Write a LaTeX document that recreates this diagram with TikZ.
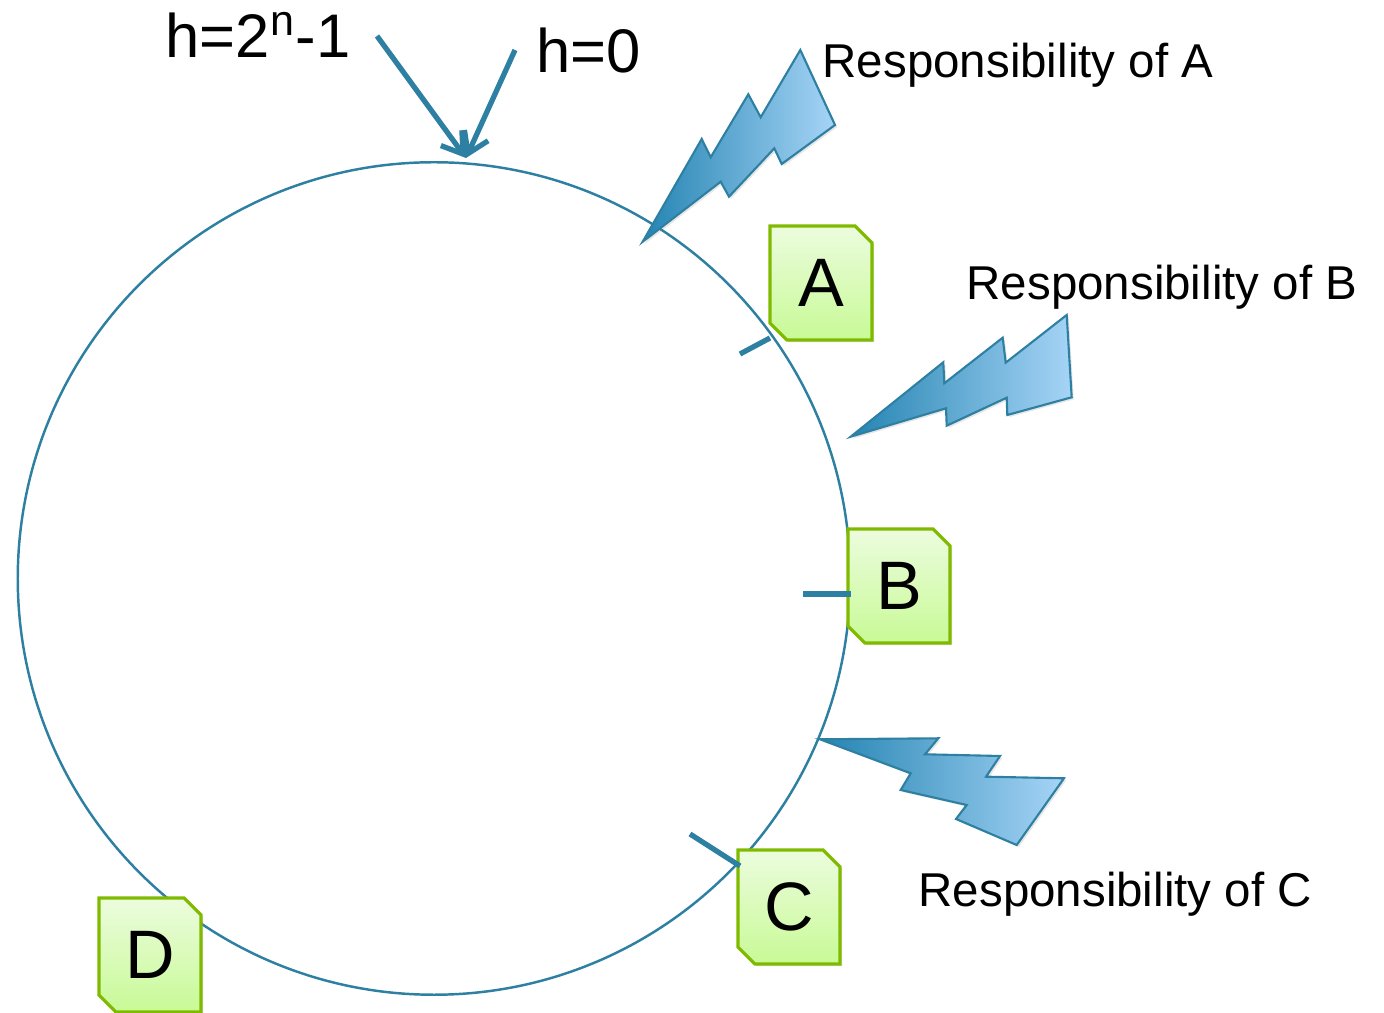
\documentclass[tikz,border=0pt]{standalone}
\usepackage{fontspec}
\setmainfont{Liberation Sans}
\usetikzlibrary{shapes.misc,shadows,arrows.meta}
\definecolor{ringblue}{RGB}{46,128,162}
\definecolor{boltdark}{RGB}{36,132,178}
\definecolor{boltlight}{RGB}{166,212,246}
\definecolor{boxline}{RGB}{128,186,0}
\definecolor{boxtop}{RGB}{236,252,222}
\definecolor{boxbottom}{RGB}{200,250,150}
\begin{document}
\begin{tikzpicture}[x=0.01cm,y=-0.01cm]
        \tikzstyle{server}=[chamfered rectangle,chamfered rectangle corners={north east,south west},
          chamfered rectangle xsep=0.085cm,chamfered rectangle ysep=0.085cm,inner sep=0pt,
          minimum width=1.02cm,minimum height=1.14cm,draw=boxline,line width=0.9pt,
          top color=boxtop,bottom color=boxbottom,
          drop shadow={opacity=0.25,shadow xshift=0.6pt,shadow yshift=-0.6pt},
          font=\fontsize{19.5}{22}\selectfont]
        \tikzstyle{resp}=[anchor=base west,inner sep=0pt,font=\fontsize{13.5}{16}\selectfont]
        \tikzstyle{hash}=[anchor=base west,inner sep=0pt,font=\fontsize{17.5}{20}\selectfont]
        \tikzstyle{pointer}=[draw,->,>={Straight Barb[length=2mm,width=2.6mm]},line width=1.5pt,ringblue]
        \tikzstyle{tick}=[draw,line width=1.5pt,ringblue]
        \tikzstyle{bolt}=[draw=ringblue,line width=0.6pt,left color=boltdark,right color=boltlight,
          drop shadow={opacity=0.2,shadow xshift=0.6pt,shadow yshift=-0.6pt}]
        \useasboundingbox (0,0) rectangle (1384,1013);
        % ring
        \node [circle,draw=ringblue,line width=0.7pt,minimum size=8.32cm,inner sep=0pt] (ring) at (434,578.5) {};
        % labels
        \node [hash] (hmax) at (165,58) {h=2\textsuperscript{n}-1};
        \node [hash] (hzero) at (536,73) {h=0};
        \coordinate (maxstart) at (377,36);
        \coordinate (zerostart) at (515,50);
        \coordinate (origin) at (466,158);
        \path[pointer] (maxstart) -- (origin);
        \path[pointer] (zerostart) -- (origin);
        % bolts
        \path[bolt] (642.7,241.7) -- (701.7,139) -- (710.7,157.3) -- (748.3,94.3) -- (760.7,117.3)
          -- (800.3,50) -- (835,125) -- (781.7,164) -- (774.3,148.3) -- (729,196.7) -- (720.7,181.7) -- cycle;
        \path[bolt] (850.7,436.7) -- (943.3,362.3) -- (944.3,383.3) -- (1002.7,337.7) -- (1005.7,362.7)
          -- (1066.7,315) -- (1071.7,397.3) -- (1007.3,415) -- (1006.7,397.7) -- (946.7,425.7) -- (946,408.3) -- cycle;
        \path[bolt] (820,739.3) -- (938.3,738.3) -- (925,754.3) -- (1000,756) -- (986,776.7)
          -- (1064,778.3) -- (1016.7,845) -- (956,819) -- (966.7,805) -- (900.7,790) -- (910.7,773.3) -- cycle;
        \node [resp] (respA) at (822,78) {Responsibility of A};
        \node [resp] (respB) at (966,300) {Responsibility of B};
        \node [resp] (respC) at (918,907) {Responsibility of C};
        % servers
        \node [server] (A) at (821,283) {A};
        \node [server] (B) at (899,586) {B};
        \node [server] (C) at (789,907) {C};
        \node [server] (D) at (150,955) {D};
        \coordinate (tickA) at (740,354);
        \coordinate (tickB) at (803,594);
        \coordinate (tickC) at (690,834);
        \path[tick] (tickA) -- (770,338);
        \path[tick] (tickB) -- (851,594);
        \path[tick] (tickC) -- (740,866);
\end{tikzpicture}
\end{document}
